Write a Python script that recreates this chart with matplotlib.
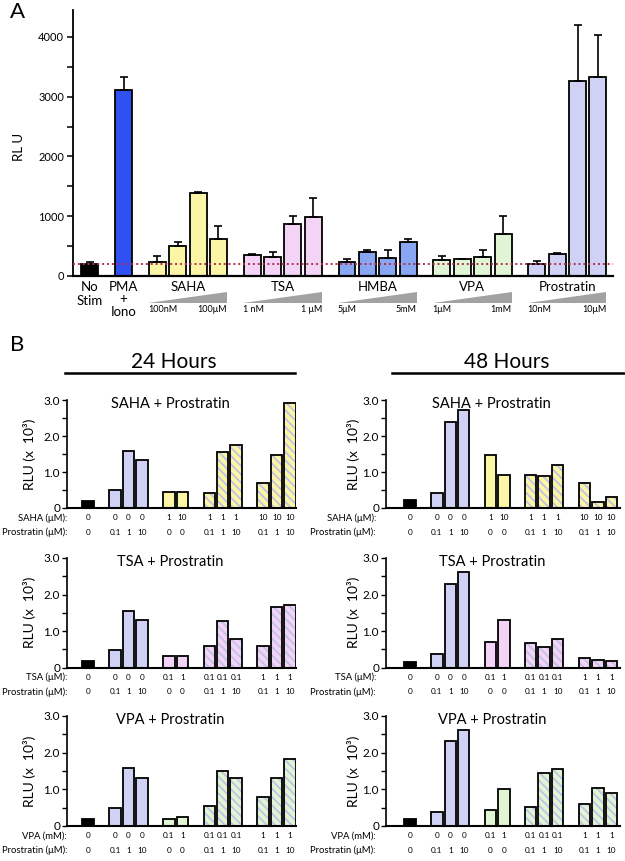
import numpy as np
import matplotlib
matplotlib.use('Agg')
import matplotlib.pyplot as plt
from matplotlib.patches import Polygon
from matplotlib.transforms import blended_transform_factory
from matplotlib.ticker import MultipleLocator, FixedLocator

plt.rcParams['font.family'] = ['Lato', 'DejaVu Sans']
plt.rcParams['hatch.linewidth'] = 1.3

W, H = 625, 861

# ---------------- Panel A data ----------------
a_groups = ['No\nStim', 'PMA\n+\nIono', 'SAHA', 'TSA', 'HMBA', 'VPA', 'Prostratin']
a_values = [[200], [3120], [240, 505, 1390, 615], [352, 318, 872, 983],
            [229, 408, 302, 570], [263, 285, 313, 709], [201, 374, 3263, 3324]]
a_errors = [[40], [205], [95, 65, 12, 223], [22, 84, 139, 324],
            [50, 28, 128, 45], [78, 5, 117, 297], [45, 11, 944, 704]]
a_colors = ['#000000', '#3050f2', '#faf6a6', '#f3d4f6', '#88a6f2', '#dff5d4', '#d0d2f5']
a_dose_lo = ['', '', '100nM', '1 nM', '5μM', '1μM', '10nM']
a_dose_hi = ['', '', '100μM', '1 μM', '5mM', '1mM', '10μM']
a_baseline = 200

# ---------------- Panel B data ----------------
b_positions = [0, 2, 3, 4, 6, 7, 9, 10, 11, 13, 14, 15]
b_prostratin = ['0', '0.1', '1', '10', '0', '0', '0.1', '1', '10', '0.1', '1', '10']
b_saha_doses = ['0', '0', '0', '0', '1', '10', '1', '1', '1', '10', '10', '10']
b_tsa_doses = ['0', '0', '0', '0', '0.1', '1', '0.1', '0.1', '0.1', '1', '1', '1']
b_vpa_doses = ['0', '0', '0', '0', '0.1', '1', '0.1', '0.1', '0.1', '1', '1', '1']

saha_24 = [0.20, 0.50, 1.59, 1.33, 0.45, 0.45, 0.41, 1.55, 1.75, 0.69, 1.48, 2.92]
saha_48 = [0.22, 0.43, 2.40, 2.72, 1.48, 0.91, 0.91, 0.88, 1.19, 0.69, 0.18, 0.30]
tsa_24 = [0.17, 0.48, 1.56, 1.30, 0.31, 0.32, 0.59, 1.27, 0.79, 0.60, 1.66, 1.72]
tsa_48 = [0.16, 0.37, 2.30, 2.62, 0.71, 1.29, 0.66, 0.55, 0.77, 0.27, 0.20, 0.17]
vpa_24 = [0.18, 0.48, 1.58, 1.32, 0.18, 0.24, 0.54, 1.49, 1.32, 0.79, 1.32, 1.82]
vpa_48 = [0.18, 0.37, 2.31, 2.62, 0.44, 1.01, 0.53, 1.45, 1.56, 0.60, 1.05, 0.89]

lavender = '#d0d2f5'
stripe = '#c2c2e6'

fig = plt.figure(figsize=(W / 100, H / 100), dpi=100)


def px_axes(l, t, r, b):
    return fig.add_axes([l / W, 1 - b / H, (r - l) / W, (b - t) / H])


def fy(py):
    return 1 - py / H


# ---------------- Panel A ----------------
axA = px_axes(73, 9.5, 613, 276)
x = 0.0
group_pos = []
for gi, vals in enumerate(a_values):
    if gi > 0:
        x += 1.65
    gp = []
    for j in range(len(vals)):
        if j > 0:
            x += 1.0
        gp.append(x)
    group_pos.append(gp)

for gi, vals in enumerate(a_values):
    gp = group_pos[gi]
    axA.bar(gp, vals, width=0.83, color=a_colors[gi], edgecolor='black', linewidth=1.3, zorder=2)
    axA.errorbar(gp, vals, yerr=[np.zeros(len(vals)), a_errors[gi]], fmt='none',
                 ecolor='black', elinewidth=1.2, capsize=3, capthick=1.2, zorder=3)

axA.axhline(a_baseline, color='#b03050', linestyle=(0, (1, 1.5)), linewidth=1.4, zorder=4)
axA.set_xlim(-0.83, 25.64)
axA.set_ylim(0, 4460)
axA.spines['top'].set_visible(False)
axA.spines['right'].set_visible(False)
axA.spines['left'].set_linewidth(1.3)
axA.spines['bottom'].set_linewidth(1.6)
axA.set_xticks([])
axA.yaxis.set_major_locator(MultipleLocator(1000))
axA.yaxis.set_minor_locator(MultipleLocator(500))
axA.tick_params(axis='y', which='both', direction='out', length=4.5, width=1.1, labelsize=8, pad=2)
fig.text(19 / W, fy(147), 'RL U', rotation=90, ha='center', va='center', fontsize=9.5)

transA = blended_transform_factory(axA.transData, fig.transFigure)
# group labels
axA.text(group_pos[0][0], fy(287), 'No', transform=transA, ha='center', va='center', fontsize=9.5)
axA.text(group_pos[0][0], fy(301), 'Stim', transform=transA, ha='center', va='center', fontsize=9.5)
axA.text(group_pos[1][0], fy(287), 'PMA', transform=transA, ha='center', va='center', fontsize=9.5)
axA.text(group_pos[1][0], fy(299), '+', transform=transA, ha='center', va='center', fontsize=9.5)
axA.text(group_pos[1][0], fy(312), 'Iono', transform=transA, ha='center', va='center', fontsize=9.5)
for gi in range(2, len(a_groups)):
    gp = group_pos[gi]
    xc = (gp[0] + gp[-1]) / 2
    axA.text(xc, fy(287), a_groups[gi], transform=transA, ha='center', va='center', fontsize=9.5)
    x0 = gp[0] - 0.45
    x1 = gp[-1] + 0.42
    tri = Polygon([(x0, fy(302.5)), (x1, fy(302.5)), (x1, fy(292))], closed=True,
                  transform=transA, facecolor='#a2a2a2', edgecolor='none', clip_on=False)
    axA.add_patch(tri)
    axA.text(x0, fy(309), a_dose_lo[gi], transform=transA, ha='left', va='center', fontsize=6.5)
    axA.text(x1, fy(309), a_dose_hi[gi], transform=transA, ha='right', va='center', fontsize=6.5)

fig.text(18 / W, fy(12), 'A', fontsize=16, ha='center', va='center')
fig.text(17 / W, fy(345), 'B', fontsize=16, ha='center', va='center')

# ---------------- Panel B ----------------
fig.text(174 / W, fy(362), '24 Hours', fontsize=15, ha='center', va='center')
fig.add_artist(plt.Line2D([65 / W, 295 / W], [fy(373), fy(373)], color='black', linewidth=1.8))
fig.text(507 / W, fy(362), '48 Hours', fontsize=15, ha='center', va='center')
fig.add_artist(plt.Line2D([392 / W, 624 / W], [fy(373), fy(373)], color='black', linewidth=1.8))


def small_panel(l, r, t, b, xlim, values, drug_color, title, drug_label, doses, label_x, ylab_x):
    ax = px_axes(l, t, r, b)
    for i, (p, v) in enumerate(zip(b_positions, values)):
        if i == 0:
            ax.bar(p, v, width=0.85, color='black', edgecolor='black', linewidth=1.3, zorder=2)
        elif i <= 3:
            ax.bar(p, v, width=0.85, color=lavender, edgecolor='black', linewidth=1.3, zorder=2)
        elif i <= 5:
            ax.bar(p, v, width=0.85, color=drug_color, edgecolor='black', linewidth=1.3, zorder=2)
        else:
            ax.bar(p, v, width=0.85, color=drug_color, edgecolor=stripe, linewidth=0,
                   hatch='\\\\\\\\', zorder=2)
            ax.bar(p, v, width=0.85, color='none', edgecolor='black', linewidth=1.3, zorder=3)
    ax.set_xlim(*xlim)
    ax.set_ylim(0, 3.0)
    ax.spines['top'].set_visible(False)
    ax.spines['right'].set_visible(False)
    ax.spines['left'].set_linewidth(1.2)
    ax.spines['bottom'].set_linewidth(1.5)
    ax.set_xticks([])
    ax.yaxis.set_major_locator(FixedLocator([0, 1, 2, 3]))
    ax.set_yticklabels(['0', '1.0', '2.0', '3.0'])
    ax.yaxis.set_minor_locator(MultipleLocator(0.5))
    ax.tick_params(axis='y', which='both', direction='out', length=3.5, width=1.0, labelsize=8.5, pad=1.5)
    ax.text(6.1, 2.9, title, ha='center', va='center', fontsize=10.5)
    fig.text(ylab_x / W, fy((t + b) / 2), 'RLU (x  10³)', rotation=90, ha='center', va='center', fontsize=10)
    tr = blended_transform_factory(ax.transData, fig.transFigure)
    fig.text(label_x / W, fy(b + 10), drug_label, ha='right', va='center', fontsize=6.8)
    fig.text(label_x / W, fy(b + 24.5), 'Prostratin (μM):', ha='right', va='center', fontsize=6.8)
    for p, d, pr in zip(b_positions, doses, b_prostratin):
        ax.text(p, fy(b + 10), d, transform=tr, ha='center', va='center', fontsize=5.9)
        ax.text(p, fy(b + 24.5), pr, transform=tr, ha='center', va='center', fontsize=5.9)
    return ax


rows = [(400, 508), (558, 667.5), (716, 826)]
xl24 = (-1.56, 15.44)
xl48 = (-1.79, 15.65)

small_panel(67, 296, *rows[0], xl24, saha_24, '#faf6a6', 'SAHA + Prostratin', 'SAHA (μM):', b_saha_doses, 67, 30)
small_panel(386, 620, *rows[0], xl48, saha_48, '#faf6a6', 'SAHA + Prostratin', 'SAHA (μM):', b_saha_doses, 376, 353)
small_panel(67, 296, *rows[1], xl24, tsa_24, '#f3d4f6', 'TSA + Prostratin', 'TSA (μM):', b_tsa_doses, 67, 30)
small_panel(386, 620, *rows[1], xl48, tsa_48, '#f3d4f6', 'TSA + Prostratin', 'TSA (μM):', b_tsa_doses, 376, 353)
small_panel(67, 296, *rows[2], xl24, vpa_24, '#dff5d4', 'VPA + Prostratin', 'VPA (mM):', b_vpa_doses, 67, 30)
small_panel(386, 620, *rows[2], xl48, vpa_48, '#dff5d4', 'VPA + Prostratin', 'VPA (mM):', b_vpa_doses, 376, 353)

fig.savefig('out.png', dpi=100)
